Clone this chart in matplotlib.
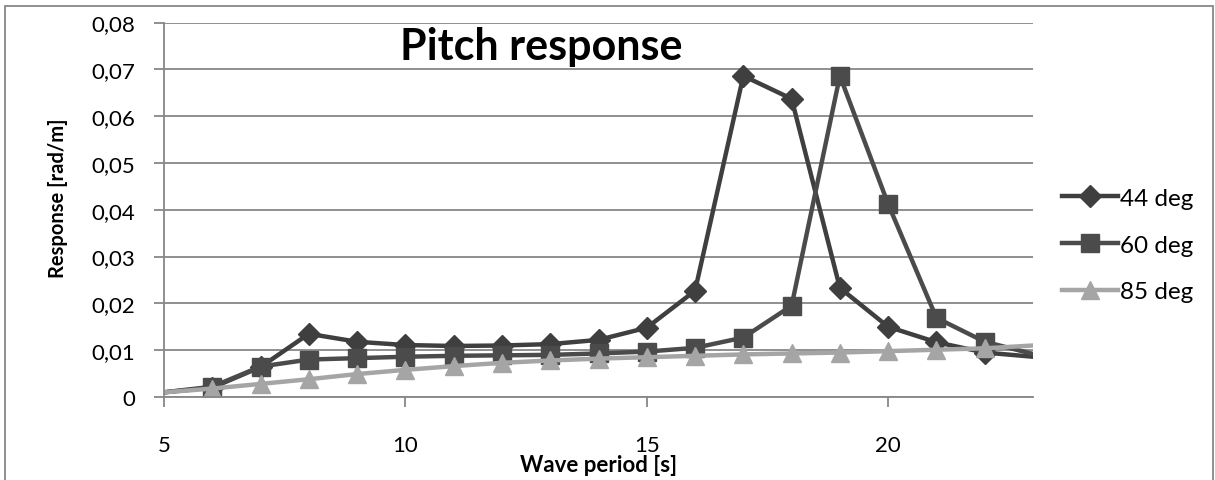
import matplotlib
matplotlib.use("Agg")
import matplotlib.pyplot as plt
from matplotlib.patches import Rectangle
from matplotlib.ticker import FuncFormatter, MultipleLocator

plt.rcParams['font.family'] = ['Lato', 'DejaVu Sans']

# Wave period [s]
periods = [5, 6, 7, 8, 9, 10, 11, 12, 13, 14, 15, 16, 17, 18, 19, 20, 21, 22, 23]

# Pitch response [rad/m] per heading
resp_44 = [0.0010, 0.0020, 0.0064, 0.0135, 0.0118, 0.0111, 0.0109, 0.0110, 0.0113,
           0.0122, 0.0148, 0.0227, 0.0686, 0.0637, 0.0233, 0.0150, 0.0117, 0.0095, 0.0086]
resp_60 = [0.0010, 0.0022, 0.0065, 0.0080, 0.0083, 0.0086, 0.0088, 0.0089, 0.0090,
           0.0093, 0.0097, 0.0105, 0.0127, 0.0195, 0.0686, 0.0412, 0.0169, 0.0118, 0.0092]
resp_85 = [0.0010, 0.0018, 0.0028, 0.0038, 0.0049, 0.0058, 0.0066, 0.0073, 0.0078,
           0.0082, 0.0085, 0.0088, 0.0091, 0.0093, 0.0095, 0.0098, 0.0101, 0.0104, 0.0110]

labels = ['44 deg', '60 deg', '85 deg']
colors = ['#3f3f3f', '#4b4b4b', '#a5a5a5']
markers = ['D', 's', '^']
msizes = [11, 13, 13]

W, H = 1215, 481
fig = plt.figure(figsize=(W / 100, H / 100), dpi=100)
ax = fig.add_axes([164 / W, 1 - 398 / H, (1033 - 164) / W, (398 - 23.5) / H])

for ys, lab, c, m, ms in zip([resp_44, resp_60, resp_85], labels, colors, markers, msizes):
    ax.plot(periods, ys, color=c, lw=3.2, marker=m, ms=ms, mfc=c, mec=c,
            markevery=slice(1, -1), label=lab, solid_joinstyle='round', clip_on=True)

ax.set_xlim(5, 23)
ax.set_ylim(0, 0.08)
ax.xaxis.set_major_locator(MultipleLocator(5))
ax.yaxis.set_major_locator(MultipleLocator(0.01))
ax.yaxis.set_major_formatter(FuncFormatter(
    lambda v, p: '0' if abs(v) < 1e-12 else f'{v:.2f}'.replace('.', ',')))

ax.grid(axis='y', color='#878787', lw=1.3)
ax.set_axisbelow(True)
for s in ['top', 'right']:
    ax.spines[s].set_visible(False)
for s in ['left', 'bottom']:
    ax.spines[s].set_color('#878787')
    ax.spines[s].set_linewidth(1.3)
ax.tick_params(axis='both', colors='#878787', labelcolor='black', labelsize=16,
               length=7, width=1.3)
ax.tick_params(axis='x', pad=20)
ax.tick_params(axis='y', pad=14)

ax.set_xlabel('Wave period [s]', fontsize=16, fontweight='bold')
ax.xaxis.set_label_coords(0.5, -0.179)
ax.xaxis.label.set_va('center')
ax.set_ylabel('Response [rad/m]', fontsize=14.5, fontweight='bold')
ax.yaxis.set_label_coords(-0.122, 0.534)
ax.yaxis.label.set_va('center')

ax.text(0.434, 0.9025, 'Pitch response', transform=ax.transAxes, ha='center', va='baseline',
        fontsize=31, fontweight='bold')

fig.legend(loc='center left', bbox_to_anchor=(1052 / W, 1 - 246 / H), frameon=False,
           fontsize=17.5, handlelength=2.3, handletextpad=0.1, labelspacing=1.05,
           borderaxespad=0)

fig.add_artist(Rectangle((5 / W, -0.05), (1213 - 5) / W, 1 - 7 / H + 0.05,
                         transform=fig.transFigure, fill=False, ec='#878787', lw=1.3))

fig.savefig('out.png', dpi=100)
